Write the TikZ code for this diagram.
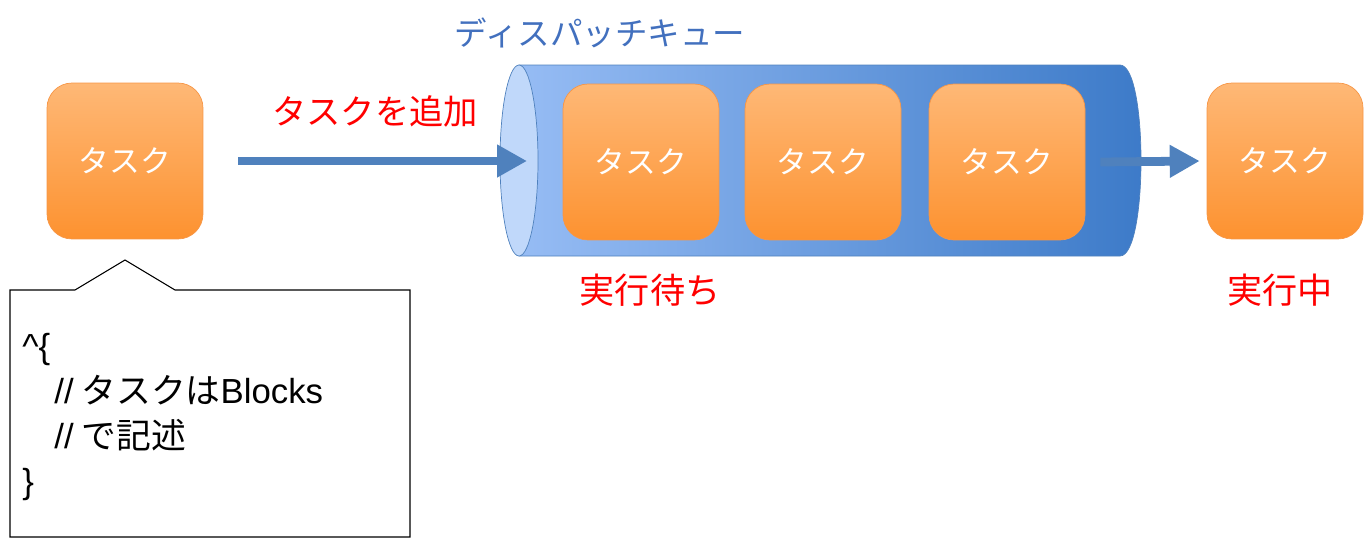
\documentclass[tikz,border=0pt]{standalone}
\usepackage{fontspec}
\setmainfont{Noto Sans CJK JP}
\newfontfamily\latinfont{Liberation Sans}
\usepackage{tikz}
\usetikzlibrary{calc,arrows.meta,positioning,shapes.geometric}

\definecolor{taskhi}{RGB}{254,184,118}
\definecolor{tasklo}{RGB}{253,146,48}
\definecolor{taskline}{RGB}{247,150,70}
\definecolor{qlight}{RGB}{150,188,244}
\definecolor{qdark}{RGB}{60,122,200}
\definecolor{qend}{RGB}{192,216,250}
\definecolor{flowblue}{RGB}{79,129,189}
\definecolor{titleblue}{RGB}{66,112,190}

\tikzset{
  task/.style={draw=taskline, top color=taskhi, bottom color=tasklo,
    rounded corners=0.5cm, minimum width=3.12cm, minimum height=3.12cm,
    text=white, font=\fontsize{17.5}{20}\selectfont},
  flow/.style={draw=flowblue, line width=5pt,
    -{Triangle[length=0.6cm,width=0.62cm]}},
  redlabel/.style={text=red, font=\fontsize{20}{23}\selectfont}
}

\begin{document}
\begin{tikzpicture}[x=0.02cm,y=-0.02cm]
        \useasboundingbox (0,0) rectangle (1371,548);

        % Очередь (цилиндр)
        \def\qtop{65}
        \def\qbot{256}
        \shade[left color=qlight, right color=qdark, draw=flowblue]
          (519,\qtop) -- (1120,\qtop)
          .. controls (1148,\qtop) and (1148,\qbot) .. (1120,\qbot)
          -- (519,\qbot) -- cycle;
        \draw[flowblue, fill=qend] (519,160.5) ellipse [x radius=0.38cm, y radius=1.91cm];
        \node[text=titleblue, font=\fontsize{18.5}{22}\selectfont] (qname) at (600,33) {ディスパッチキュー};

        % Задачи
        \node[task] (t0) at (125,161) {タスク};
        \node[task] (t1) at (641,162) {タスク};
        \node[task] (t2) at (823,162) {タスク};
        \node[task] (t3) at (1007,162) {タスク};
        \node[task] (t4) at (1285,161) {タスク};

        \coordinate (qin) at (527,161);
        \draw[flow] ([xshift=0.7cm]t0.east) -- (qin);
        \draw[flow] ([xshift=0.3cm]t3.east) -- ([xshift=-0.14cm]t4.west);

        \node[redlabel, font=\fontsize{19.5}{23}\selectfont] (add) at (375,111) {タスクを追加};
        \node[redlabel] (wait) at (650,290) {実行待ち};
        \node[redlabel] (run) at (1280,290) {実行中};

        % Выноска
        \coordinate (tip) at (125,260);
        \draw[line width=0.6pt, fill=white] (10,290) -- (75,290) -- (tip) -- (175,290)
          -- (410,290) -- (410,537) -- (10,537) -- cycle;
        \node[anchor=north west, inner sep=0pt, align=left,
          font=\fontsize{19.8}{25.6}\selectfont] (code) at (22,333)
          {{\latinfont\textasciicircum\{}\\
           \hspace*{0.64cm}{\latinfont //} タスクは{\latinfont Blocks}\\
           \hspace*{0.64cm}{\latinfont //} で記述\\
           {\latinfont\}}};
    \end{tikzpicture}
\end{document}
